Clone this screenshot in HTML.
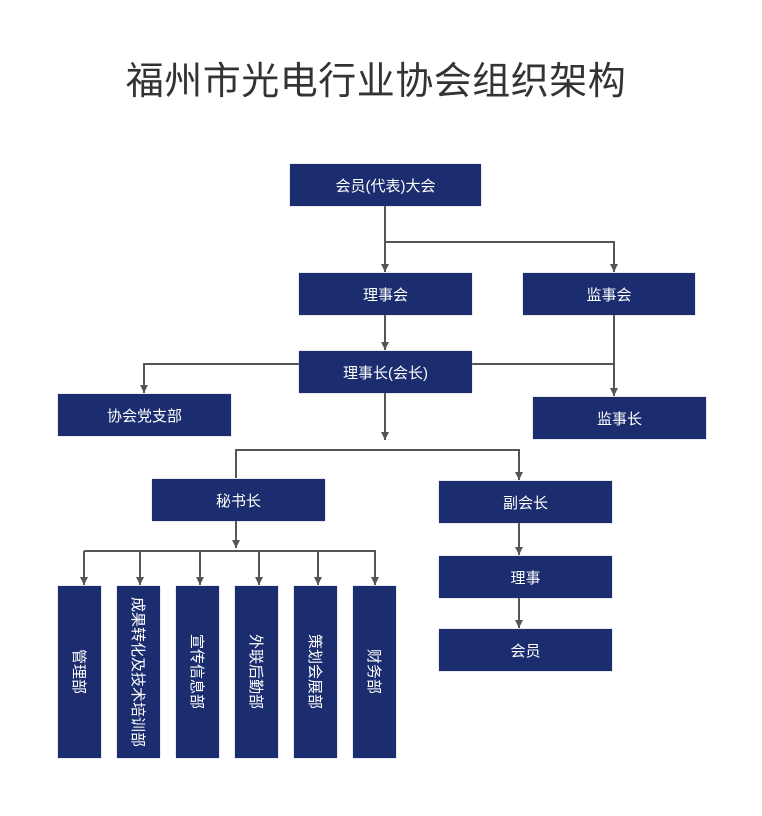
<!DOCTYPE html>
<html><head><meta charset="utf-8"><style>
body{margin:0;background:#fff;width:762px;height:816px;position:relative;overflow:hidden;font-family:"Liberation Sans","Noto Sans CJK SC",sans-serif}
.t{position:absolute;left:0;width:752px;top:50px;text-align:center;font-size:38px;color:#333;letter-spacing:0.5px}
.b{position:absolute;background:#1b2d6e;color:#fff;font-size:15px;display:flex;align-items:center;justify-content:center;box-shadow:0 0 1px #8a97c0}
.v{writing-mode:vertical-rl;text-orientation:sideways;font-size:15px;white-space:nowrap}
svg{position:absolute;left:0;top:0}
</style></head><body>
<div class="t">福州市光电行业协会组织架构</div>
<svg width="762" height="816">
<defs><marker id="a" markerWidth="8" markerHeight="8" refX="8" refY="4" orient="auto" markerUnits="userSpaceOnUse"><path d="M0,0 L8,4 L0,8 z" fill="#555"/></marker></defs>
<g stroke="#555" stroke-width="2" fill="none">
<path d="M385,206 V272" marker-end="url(#a)"/>
<path d="M385,242 H614 V272" marker-end="url(#a)"/>
<path d="M385,315 V350" marker-end="url(#a)"/>
<path d="M300,364 H144 V393" marker-end="url(#a)"/>
<path d="M472,364 H614"/>
<path d="M614,315 V396" marker-end="url(#a)"/>
<path d="M385,393 V440" marker-end="url(#a)"/>
<path d="M236,478 V450 H519 V480" marker-end="url(#a)"/>
<path d="M236,521 V548" marker-end="url(#a)"/>
<path d="M84,551 H375 V585" marker-end="url(#a)"/>
<path d="M84,551 V585" marker-end="url(#a)"/>
<path d="M140,551 V585" marker-end="url(#a)"/>
<path d="M200,551 V585" marker-end="url(#a)"/>
<path d="M259,551 V585" marker-end="url(#a)"/>
<path d="M318,551 V585" marker-end="url(#a)"/>
<path d="M519,523 V555" marker-end="url(#a)"/>
<path d="M519,598 V628" marker-end="url(#a)"/>
</g></svg>
<div class="b" style="left:290px;top:164px;width:191px;height:42px">会员(代表)大会</div>
<div class="b" style="left:299px;top:273px;width:173px;height:42px">理事会</div>
<div class="b" style="left:523px;top:273px;width:172px;height:42px">监事会</div>
<div class="b" style="left:299px;top:351px;width:173px;height:42px">理事长(会长)</div>
<div class="b" style="left:58px;top:394px;width:173px;height:42px">协会党支部</div>
<div class="b" style="left:533px;top:397px;width:173px;height:42px">监事长</div>
<div class="b" style="left:152px;top:479px;width:173px;height:42px">秘书长</div>
<div class="b" style="left:439px;top:481px;width:173px;height:42px">副会长</div>
<div class="b" style="left:439px;top:556px;width:173px;height:42px">理事</div>
<div class="b" style="left:439px;top:629px;width:173px;height:42px">会员</div>
<div class="b" style="left:58px;top:586px;width:43px;height:172px"><span class="v">管理部</span></div>
<div class="b" style="left:117px;top:586px;width:43px;height:172px"><span class="v">成果转化及技术培训部</span></div>
<div class="b" style="left:176px;top:586px;width:43px;height:172px"><span class="v">宣传信息部</span></div>
<div class="b" style="left:235px;top:586px;width:43px;height:172px"><span class="v">外联后勤部</span></div>
<div class="b" style="left:294px;top:586px;width:43px;height:172px"><span class="v">策划会展部</span></div>
<div class="b" style="left:353px;top:586px;width:43px;height:172px"><span class="v">财务部</span></div>
</body></html>
